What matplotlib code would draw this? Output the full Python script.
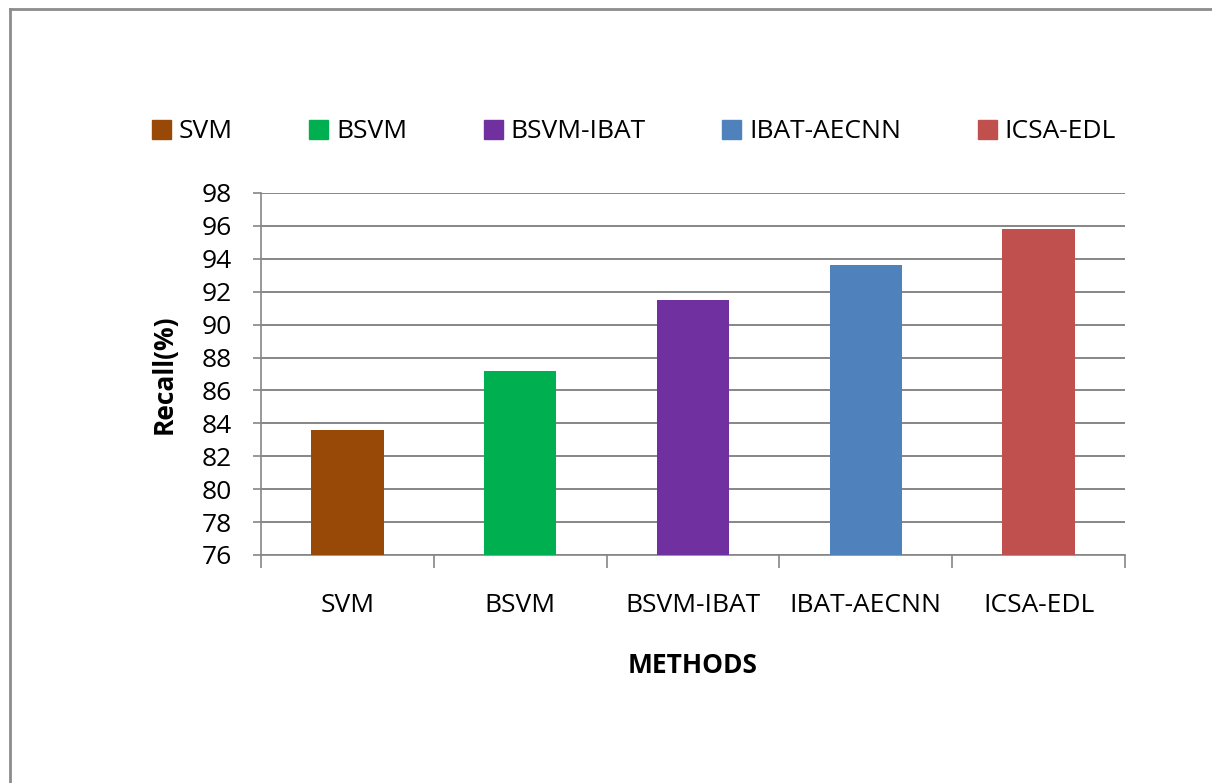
import matplotlib
matplotlib.use("Agg")
import matplotlib.pyplot as plt
from matplotlib.lines import Line2D

# Recall per method
methods = ["SVM", "BSVM", "BSVM-IBAT", "IBAT-AECNN", "ICSA-EDL"]
recall = [83.6, 87.2, 91.5, 93.6, 95.8]
colors = ["#984807", "#00B050", "#7030A0", "#4F81BD", "#C0504D"]
y_ticks = list(range(76, 99, 2))

plt.rcParams["font.family"] = ["Open Sans", "DejaVu Sans"]

W, H = 1212, 783
fig = plt.figure(figsize=(W / 100, H / 100), dpi=100)
fig.patch.set_facecolor("white")

# plot area in pixel coordinates
left, right, top, bottom = 261, 1125, 193, 555
ax = fig.add_axes([left / W, 1 - bottom / H, (right - left) / W, (bottom - top) / H])

x = list(range(len(methods)))
bars = ax.bar(x, recall, width=0.42, color=colors, zorder=3)

ax.set_xlim(-0.5, len(methods) - 0.5)
ax.set_ylim(76, 98)
ax.set_yticks(y_ticks)
ax.set_yticklabels([str(t) for t in y_ticks], fontsize=19)
ax.yaxis.grid(True, color="#868686", linewidth=1.4, zorder=0)
ax.set_axisbelow(True)

# category boundaries carry the x ticks
ax.set_xticks([i - 0.5 for i in range(len(methods) + 1)])
ax.set_xticklabels([])
ax.set_xticks(x, minor=True)
ax.set_xticklabels(methods, minor=True, fontsize=19)
ax.tick_params(axis="x", which="major", length=9, width=1.2, color="#868686")
ax.tick_params(axis="x", which="minor", length=0, pad=27)
ax.tick_params(axis="y", length=6, width=1.2, color="#868686", pad=15)

for s in ["top", "right"]:
    ax.spines[s].set_visible(False)
for s in ["left", "bottom"]:
    ax.spines[s].set_color("#868686")
    ax.spines[s].set_linewidth(1.2)

ax.set_ylabel("Recall(%)", fontsize=19, fontweight="bold", labelpad=17)
ax.set_xlabel("METHODS", fontsize=19, fontweight="bold", labelpad=25)

handles = [plt.Rectangle((0, 0), 1, 1, color=c) for c in colors]
fig.legend(handles, methods, loc="center", ncol=5, frameon=False,
           bbox_to_anchor=(634 / W, 1 - 132 / H), fontsize=19,
           handlelength=0.72, handleheight=0.72, handletextpad=0.3,
           columnspacing=2.9)

# outer chart frame (top and left edges)
fig.add_artist(Line2D([10 / W, 1], [1 - 9 / H, 1 - 9 / H], color="#8c8c8c", lw=2))
fig.add_artist(Line2D([10 / W, 10 / W], [0, 1 - 9 / H], color="#8c8c8c", lw=2))

fig.savefig("out.png", dpi=100, facecolor="white")
